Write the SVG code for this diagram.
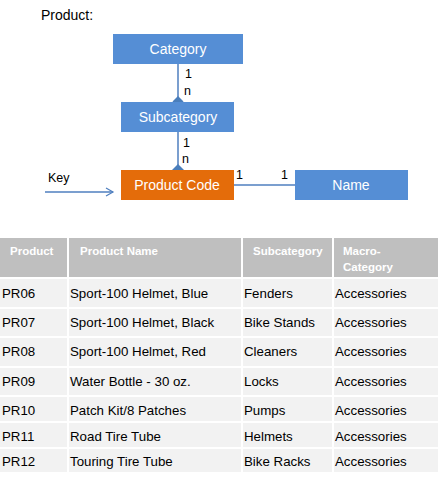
<svg xmlns="http://www.w3.org/2000/svg" width="440" height="479" viewBox="0 0 440 479">
<style>
.t{font-family:"Liberation Sans",Arial,sans-serif;fill:#000}
.nt{font-family:"Liberation Sans",Arial,sans-serif;fill:#fff;font-size:14px;text-anchor:middle}
.blue{fill:#558ED5}
.org{fill:#E46C0A}
.ln{stroke:#4F7FBF;stroke-width:1.5;fill:none}
.dm{fill:#4A7EBB}
.lbl{font-family:"Liberation Sans",Arial,sans-serif;font-size:12.5px;fill:#000}
.hd{fill:#BFBFBF}
.row{fill:#F2F2F2}
.ht{font-family:"Liberation Sans",Arial,sans-serif;font-size:11.5px;font-weight:bold;fill:#fff}
.ct{font-family:"Liberation Sans",Arial,sans-serif;font-size:13.3px;fill:#000}
</style>
<defs>
<marker id="open" markerWidth="10" markerHeight="10" refX="8" refY="5" orient="auto" markerUnits="userSpaceOnUse">
<path d="M1,1 L8,5 L1,9" fill="none" stroke="#4F7FBF" stroke-width="1.2"/>
</marker>
</defs>
<rect width="440" height="479" fill="#fff"/>
<text class="t" x="41" y="20" font-size="14">Product:</text>
<g id="connectors">
<line class="ln" x1="178" y1="64" x2="178" y2="102" stroke="#8EA9C8"/>
<path class="dm" d="M178,96 L183.5,101.5 L178,107 L172.5,101.5 Z"/>
<text class="lbl" x="185" y="78">1</text>
<text class="lbl" x="184" y="95">n</text>
<line class="ln" x1="178" y1="132" x2="178" y2="170"/>
<path class="dm" d="M178,164 L184,170 L178,176 L172,170 Z"/>
<text class="lbl" x="183" y="147">1</text>
<text class="lbl" x="182" y="163">n</text>
<line class="ln" x1="234" y1="185" x2="295" y2="185"/>
<text class="lbl" x="236" y="179">1</text>
<text class="lbl" x="281" y="179">1</text>
<line class="ln" x1="45" y1="192" x2="113" y2="192" marker-end="url(#open)"/>
<text class="lbl" x="48" y="182">Key</text>
</g>
<g id="category"><rect class="blue" x="113" y="34" width="130" height="30"/><text class="nt" x="178" y="54">Category</text></g>
<g id="subcategory"><rect class="blue" x="121" y="102" width="113" height="30"/><text class="nt" x="178" y="122">Subcategory</text></g>
<g id="productcode"><rect class="org" x="121" y="170" width="113" height="30"/><text class="nt" x="177" y="190">Product  Code</text></g>
<g id="name"><rect class="blue" x="295" y="170" width="113" height="30"/><text class="nt" x="351" y="190">Name</text></g>
<g id="table">
<rect class="hd" x="0" y="238" width="67" height="39"/>
<rect class="hd" x="69" y="238" width="172" height="39"/>
<rect class="hd" x="243" y="238" width="89" height="39"/>
<rect class="hd" x="334" y="238" width="104" height="39"/>
<text class="ht" x="10" y="255">Product</text>
<text class="ht" x="80" y="255">Product Name</text>
<text class="ht" x="253" y="255">Subcategory</text>
<text class="ht" x="343" y="255">Macro-</text>
<text class="ht" x="343" y="271">Category</text>
<g id="rows">
<rect class="row" x="0" y="279" width="67" height="28"/><rect class="row" x="69" y="279" width="172" height="28"/><rect class="row" x="243" y="279" width="89" height="28"/><rect class="row" x="334" y="279" width="104" height="28"/>
<rect class="row" x="0" y="309" width="67" height="27"/><rect class="row" x="69" y="309" width="172" height="27"/><rect class="row" x="243" y="309" width="89" height="27"/><rect class="row" x="334" y="309" width="104" height="27"/>
<rect class="row" x="0" y="338" width="67" height="28"/><rect class="row" x="69" y="338" width="172" height="28"/><rect class="row" x="243" y="338" width="89" height="28"/><rect class="row" x="334" y="338" width="104" height="28"/>
<rect class="row" x="0" y="368" width="67" height="27"/><rect class="row" x="69" y="368" width="172" height="27"/><rect class="row" x="243" y="368" width="89" height="27"/><rect class="row" x="334" y="368" width="104" height="27"/>
<rect class="row" x="0" y="397" width="67" height="24"/><rect class="row" x="69" y="397" width="172" height="24"/><rect class="row" x="243" y="397" width="89" height="24"/><rect class="row" x="334" y="397" width="104" height="24"/>
<rect class="row" x="0" y="423" width="67" height="24"/><rect class="row" x="69" y="423" width="172" height="24"/><rect class="row" x="243" y="423" width="89" height="24"/><rect class="row" x="334" y="423" width="104" height="24"/>
<rect class="row" x="0" y="449" width="67" height="23"/><rect class="row" x="69" y="449" width="172" height="23"/><rect class="row" x="243" y="449" width="89" height="23"/><rect class="row" x="334" y="449" width="104" height="23"/>
</g>
<g class="ct">
<text x="2" y="298">PR06</text><text x="70" y="298">Sport-100 Helmet, Blue</text><text x="244" y="298">Fenders</text><text x="335" y="298">Accessories</text>
<text x="2" y="327">PR07</text><text x="70" y="327">Sport-100 Helmet, Black</text><text x="244" y="327">Bike Stands</text><text x="335" y="327">Accessories</text>
<text x="2" y="356">PR08</text><text x="70" y="356">Sport-100 Helmet, Red</text><text x="244" y="356">Cleaners</text><text x="335" y="356">Accessories</text>
<text x="2" y="386">PR09</text><text x="70" y="386">Water Bottle - 30 oz.</text><text x="244" y="386">Locks</text><text x="335" y="386">Accessories</text>
<text x="2" y="415">PR10</text><text x="70" y="415">Patch Kit/8 Patches</text><text x="244" y="415">Pumps</text><text x="335" y="415">Accessories</text>
<text x="2" y="441">PR11</text><text x="70" y="441">Road Tire Tube</text><text x="244" y="441">Helmets</text><text x="335" y="441">Accessories</text>
<text x="2" y="466">PR12</text><text x="70" y="466">Touring Tire Tube</text><text x="244" y="466">Bike Racks</text><text x="335" y="466">Accessories</text>
</g>
</g>
</svg>
